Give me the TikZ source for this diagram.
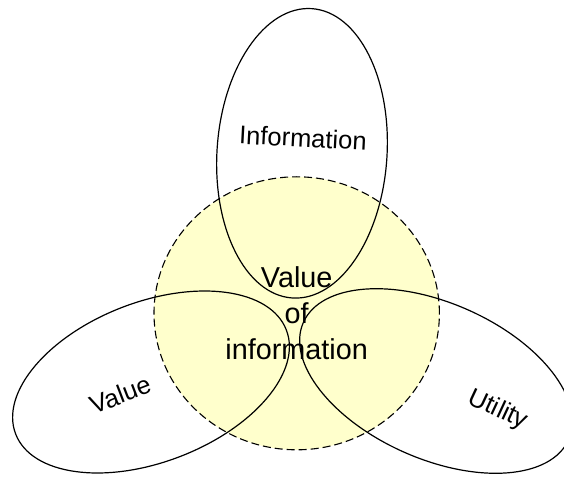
\documentclass[tikz,border=0pt]{standalone}
\usepackage{fontspec}
\setmainfont{Liberation Sans}
\usetikzlibrary{shapes.geometric}
\definecolor{voifill}{HTML}{FFFFCC}
\tikzset{
  petal/.style={ellipse, draw=black, line width=1.2pt, inner sep=0pt},
  core/.style={ellipse, draw=black, fill=voifill, line width=1.1pt, dash pattern=on 8pt off 4pt, inner sep=0pt},
  lbl/.style={inner sep=0pt, anchor=base, font=\fontsize{25.5}{30}\selectfont},
  midlbl/.style={inner sep=0pt, align=center, font=\fontsize{28.8}{36.3}\selectfont}
}
\begin{document}
\begin{tikzpicture}[x=1pt,y=1pt]
\useasboundingbox (0,0) rectangle (564,477);
\clip (0,0) rectangle (564,477);
\node[core, minimum width=285.4pt, minimum height=273pt] (voi) at (296.7,163.7) {};
\node[petal, minimum width=170pt, minimum height=290pt, rotate=-3.85] (infoell) at (302,323.7) {};
\node[petal, minimum width=290pt, minimum height=160pt, rotate=21] (valueell) at (151,95) {};
\node[petal, minimum width=290pt, minimum height=156pt, rotate=-23.8] (utilell) at (436,96) {};
\node[lbl, rotate=-3] (infotxt) at (302.5,330) {Information};
\node[lbl, rotate=21] (valuetxt) at (123.4,73.9) {Value};
\node[lbl, rotate=-25] (utiltxt) at (495,60.8) {Utility};
\node[midlbl] (voitxt) at (296.7,163.7) {Value\\of\\information};
\end{tikzpicture}
\end{document}
